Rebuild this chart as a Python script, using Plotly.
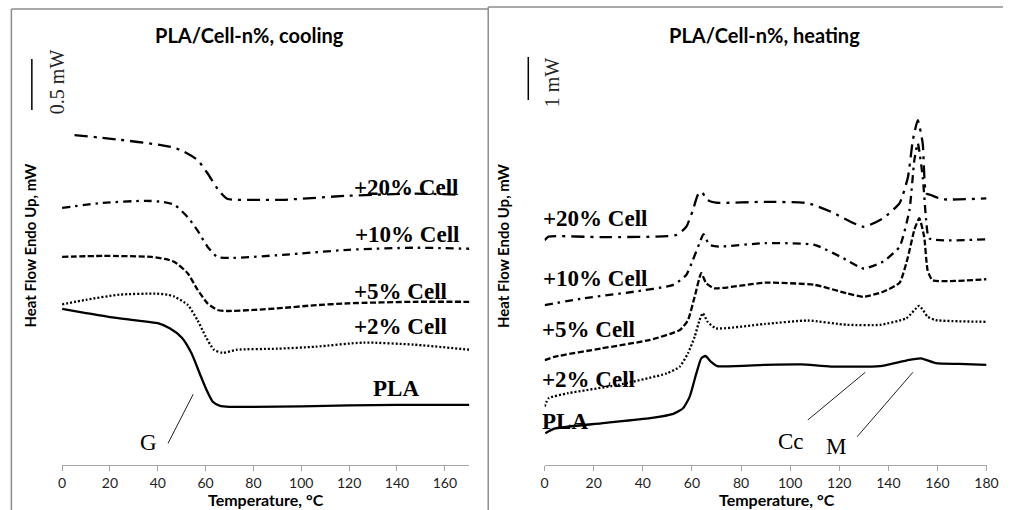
import plotly.graph_objects as go

W, H = 1013, 510

# ---------------- cooling (left) data: Temperature (°C), heat flow (mW, offset) -------------
T_pla_c = [0, 10, 20, 30, 40, 45, 50, 54, 58, 60.5, 63, 66, 70, 80, 100, 120, 140, 170.4]
Y_pla_c = [1.53, 1.49, 1.45, 1.42, 1.39, 1.34, 1.25, 1.10, 0.87, 0.73, 0.62, 0.58, 0.57, 0.57, 0.575, 0.585, 0.59, 0.59]

T_c2_c = [0, 10, 24, 39, 44, 47, 52.5, 56.6, 60, 63.5, 67, 73, 90, 106, 126, 147, 170.4]
Y_c2_c = [1.575, 1.62, 1.67, 1.68, 1.67, 1.65, 1.57, 1.42, 1.26, 1.13, 1.10, 1.13, 1.14, 1.16, 1.20, 1.18, 1.13]

T_c5_c = [0, 17, 37.4, 43, 47, 52.5, 56.6, 60.8, 64.9, 69, 80, 92.3, 105, 119.7, 147, 170.4]
Y_c5_c = [2.04, 2.05, 2.04, 2.02, 1.99, 1.88, 1.72, 1.585, 1.52, 1.51, 1.52, 1.54, 1.565, 1.585, 1.60, 1.60]

T_c10_c = [0, 17, 34.7, 42, 47, 52.5, 56.6, 60.8, 64.9, 70.3, 92.3, 119.7, 147, 170.4]
Y_c10_c = [2.52, 2.57, 2.59, 2.58, 2.55, 2.43, 2.30, 2.14, 2.04, 2.03, 2.06, 2.11, 2.13, 2.12]

T_c20_c = [5.2, 23.7, 40.2, 47, 51.1, 56.6, 60.8, 64.9, 69, 80, 92.3, 119.7, 147, 167]
Y_c20_c = [3.235, 3.19, 3.14, 3.11, 3.07, 2.99, 2.86, 2.71, 2.61, 2.60, 2.60, 2.64, 2.66, 2.65]

# ---------------- heating (right) data ----------------
T_pla_h = [0.3, 4.3, 23, 43, 52.4, 56.4, 59.1, 61.8, 63.8, 65.5, 67.8, 70.4, 89.8, 104.5, 116.6, 136.6, 147.3, 153.3, 159.3, 168.7, 180]
Y_pla_h = [0.74, 0.85, 0.97, 1.09, 1.19, 1.32, 1.59, 2.13, 2.48, 2.535, 2.40, 2.30, 2.33, 2.34, 2.29, 2.30, 2.43, 2.48, 2.37, 2.35, 2.33]

T_c2_h = [0, 1.6, 9.6, 29.7, 49.7, 55.1, 58.4, 61.1, 63.1, 64.4, 66.4, 69.8, 89.8, 107.2, 123.3, 136.6, 147.3, 152.6, 156, 159.3, 180]
Y_c2_h = [1.36, 1.55, 1.67, 1.86, 2.13, 2.29, 2.60, 2.98, 3.37, 3.53, 3.33, 3.18, 3.28, 3.36, 3.26, 3.26, 3.41, 3.70, 3.45, 3.37, 3.33]

T_c5_h = [0, 4.3, 23, 43, 55.1, 58.4, 61.1, 63.8, 65.8, 69.1, 89.8, 109.9, 123.3, 129.9, 137.9, 144.6, 148, 150.6, 152.6, 154.6, 156, 158, 180]
Y_c5_h = [2.44, 2.52, 2.71, 2.91, 3.14, 3.37, 3.91, 4.46, 4.23, 4.11, 4.24, 4.19, 3.99, 3.91, 4.03, 4.24, 4.84, 5.47, 5.74, 5.31, 4.53, 4.30, 4.32]

T_c10_h = [0, 16.3, 36.4, 52.4, 57.7, 60.4, 63.1, 64.7, 67.1, 71.1, 89.8, 109.9, 120.6, 129.9, 137.9, 144.6, 148.6, 150.6, 152, 154, 155.4, 156.7, 180]
Y_c10_h = [3.72, 3.88, 4.03, 4.19, 4.42, 4.77, 5.16, 5.37, 5.12, 5.08, 5.16, 5.12, 4.84, 4.57, 4.73, 5.08, 5.93, 7.09, 7.48, 6.70, 5.70, 5.27, 5.25]

T_c20_h = [0, 1.6, 23, 53.7, 57.7, 60.4, 62.4, 63.8, 66.4, 69.8, 89.8, 107.2, 116.6, 129.9, 137.9, 144.6, 148, 150, 152, 154, 155.4, 157.3, 162, 180]
Y_c20_h = [5.23, 5.31, 5.30, 5.35, 5.54, 5.93, 6.28, 6.36, 6.16, 6.10, 6.12, 6.09, 5.89, 5.54, 5.74, 6.09, 6.70, 7.56, 8.02, 7.48, 6.32, 6.28, 6.18, 6.20]

series_labels = ["+20% Cell", "+10% Cell", "+5% Cell", "+2% Cell", "PLA"]
titles = ["PLA/Cell-n%, cooling", "PLA/Cell-n%, heating"]
x_title = "Temperature, °C"
y_title = "Heat Flow Endo Up, mW"
left_ticks = [0, 20, 40, 60, 80, 100, 120, 140, 160]
right_ticks = [0, 20, 40, 60, 80, 100, 120, 140, 160, 180]

# ---------------- figure ----------------
def px(x):
    return x / W

def py(y):
    return 1 - y / H

styles = {
    "PLA": dict(dash="solid", width=2.3),
    "+2% Cell": dict(dash="2px,2px", width=2.3),
    "+5% Cell": dict(dash="6px,2.5px", width=2.3),
    "+10% Cell": dict(dash="8px,5px,2.5px,5px", width=2.3),
    "+20% Cell": dict(dash="13px,6px,3px,6px", width=2.3),
}

fig = go.Figure()

left = [("PLA", T_pla_c, Y_pla_c), ("+2% Cell", T_c2_c, Y_c2_c), ("+5% Cell", T_c5_c, Y_c5_c),
        ("+10% Cell", T_c10_c, Y_c10_c), ("+20% Cell", T_c20_c, Y_c20_c)]
right = [("PLA", T_pla_h, Y_pla_h), ("+2% Cell", T_c2_h, Y_c2_h), ("+5% Cell", T_c5_h, Y_c5_h),
         ("+10% Cell", T_c10_h, Y_c10_h), ("+20% Cell", T_c20_h, Y_c20_h)]

for name, t, y in left:
    st = styles[name]
    fig.add_trace(go.Scatter(x=t, y=y, mode="lines", xaxis="x", yaxis="y", showlegend=False,
                             line=dict(color="black", width=st["width"], dash=st["dash"],
                                       shape="spline", smoothing=0.6)))
for name, t, y in right:
    st = styles[name]
    fig.add_trace(go.Scatter(x=t, y=y, mode="lines", xaxis="x2", yaxis="y2", showlegend=False,
                             line=dict(color="black", width=st["width"], dash=st["dash"],
                                       shape="spline", smoothing=0.5)))

ydom = [(H - 465) / H, (H - 40) / H]
axis_common = dict(showgrid=False, zeroline=False, showline=True, linecolor="#a6a6a6", linewidth=1,
                   ticks="outside", ticklen=5, tickcolor="#a6a6a6", tickwidth=1,
                   tickfont=dict(family="Lato", size=14, color="#1e1e1e"))

fig.update_layout(
    width=W, height=H, margin=dict(l=0, r=0, t=0, b=0),
    paper_bgcolor="white", plot_bgcolor="white",
    xaxis=dict(domain=[px(59), px(472.7)], range=[0, 170.2], anchor="y",
               tickvals=left_ticks, **axis_common),
    yaxis=dict(domain=ydom, range=[0, 425 / 102], visible=False),
    xaxis2=dict(domain=[px(549.3), px(998.3)], range=[0, 180], anchor="y2",
                tickvals=right_ticks, **axis_common),
    yaxis2=dict(domain=ydom, range=[0, 425 / 43], visible=False),
)

border = dict(color="#8c8c8c", width=1.5)
shapes = [
    dict(type="line", xref="paper", yref="paper", x0=px(7.5), x1=px(7.5), y0=py(9), y1=py(512), line=border),
    dict(type="line", xref="paper", yref="paper", x0=px(7.5), x1=px(492), y0=py(9), y1=py(9), line=border),
    dict(type="line", xref="paper", yref="paper", x0=px(492), x1=px(492), y0=py(7), y1=py(512), line=border),
    dict(type="line", xref="paper", yref="paper", x0=px(492), x1=px(1015), y0=py(7), y1=py(7), line=border),
    # scale bars
    dict(type="line", xref="paper", yref="y", x0=px(28.3), x1=px(28.3), y0=3.48, y1=3.98,
         line=dict(color="black", width=1.5)),
    dict(type="line", xref="paper", yref="y2", x0=px(532.7), x1=px(532.7), y0=8.49, y1=9.49,
         line=dict(color="black", width=1.5)),
    # pointer lines
    dict(type="line", xref="x", yref="y", x0=44.3, y0=0.213, x1=54.8, y1=0.693,
         line=dict(color="#222222", width=1)),
    dict(type="line", xref="x2", yref="y2", x0=107.2, y0=1.047, x1=130.6, y1=2.156,
         line=dict(color="#222222", width=1)),
    dict(type="line", xref="x2", yref="y2", x0=127.3, y0=0.658, x1=150.0, y1=2.156,
         line=dict(color="#222222", width=1)),
]
fig.update_layout(shapes=shapes)

C = dict(xanchor="center", yanchor="middle", showarrow=False)
ann = []
lab_font = dict(family="Liberation Serif", size=23, color="black")
left_pos = {"+20% Cell": (143.6, 2.716), "+10% Cell": (144.0, 2.255), "+5% Cell": (141.3, 1.699),
            "+2% Cell": (141.3, 1.356), "PLA": (139.6, 0.752)}
right_pos = {"+20% Cell": (20.7, 5.737), "+10% Cell": (20.7, 4.342), "+5% Cell": (18.0, 3.14),
             "+2% Cell": (18.0, 1.977), "PLA": (8.3, 1.007)}
for lab in series_labels:
    x, y = left_pos[lab]
    ann.append(dict(x=x, y=y, xref="x", yref="y", text="<b>" + lab + "</b>", font=lab_font, **C))
    x, y = right_pos[lab]
    ann.append(dict(x=x, y=y, xref="x2", yref="y2", text="<b>" + lab + "</b>", font=lab_font, **C))

serif = dict(family="Liberation Serif", size=23, color="black")
ann += [
    dict(x=36.1, y=0.216, xref="x", yref="y", text="G", font=serif, **C),
    dict(x=100.4, y=0.535, xref="x2", yref="y2", text="Cc", font=serif, **C),
    dict(x=118.6, y=0.42, xref="x2", yref="y2", text="M", font=serif, **C),
    dict(x=px(54), y=py(82), xref="paper", yref="paper", text="0.5 mW", textangle=-90,
         font=dict(family="Liberation Serif", size=20, color="#222222"), **C),
    dict(x=px(557), y=py(82), xref="paper", yref="paper", text="1 mW", textangle=-90,
         font=dict(family="Liberation Serif", size=20, color="#222222"), **C),
]
ann += [
    dict(x=px(249), y=py(35), xref="paper", yref="paper", text="<b>" + titles[0] + "</b>",
         font=dict(family="Lato", size=20, color="black"), **C),
    dict(x=px(773), y=py(35), xref="paper", yref="paper", text="<b>" + titles[1] + "</b>",
         font=dict(family="Lato", size=20, color="black"), **C),
    dict(x=px(266.7), y=py(499), xref="paper", yref="paper", text="<b>" + x_title + "</b>",
         font=dict(family="Lato", size=16, color="black"), **C),
    dict(x=px(785), y=py(499), xref="paper", yref="paper", text="<b>" + x_title + "</b>",
         font=dict(family="Lato", size=16, color="black"), **C),
    dict(x=px(26), y=py(246), xref="paper", yref="paper", text="<b>" + y_title + "</b>", textangle=-90,
         font=dict(family="Lato", size=15, color="black"), **C),
    dict(x=px(507), y=py(246), xref="paper", yref="paper", text="<b>" + y_title + "</b>", textangle=-90,
         font=dict(family="Lato", size=15, color="black"), **C),
]
fig.update_layout(annotations=ann)

fig.write_html("out.html")
